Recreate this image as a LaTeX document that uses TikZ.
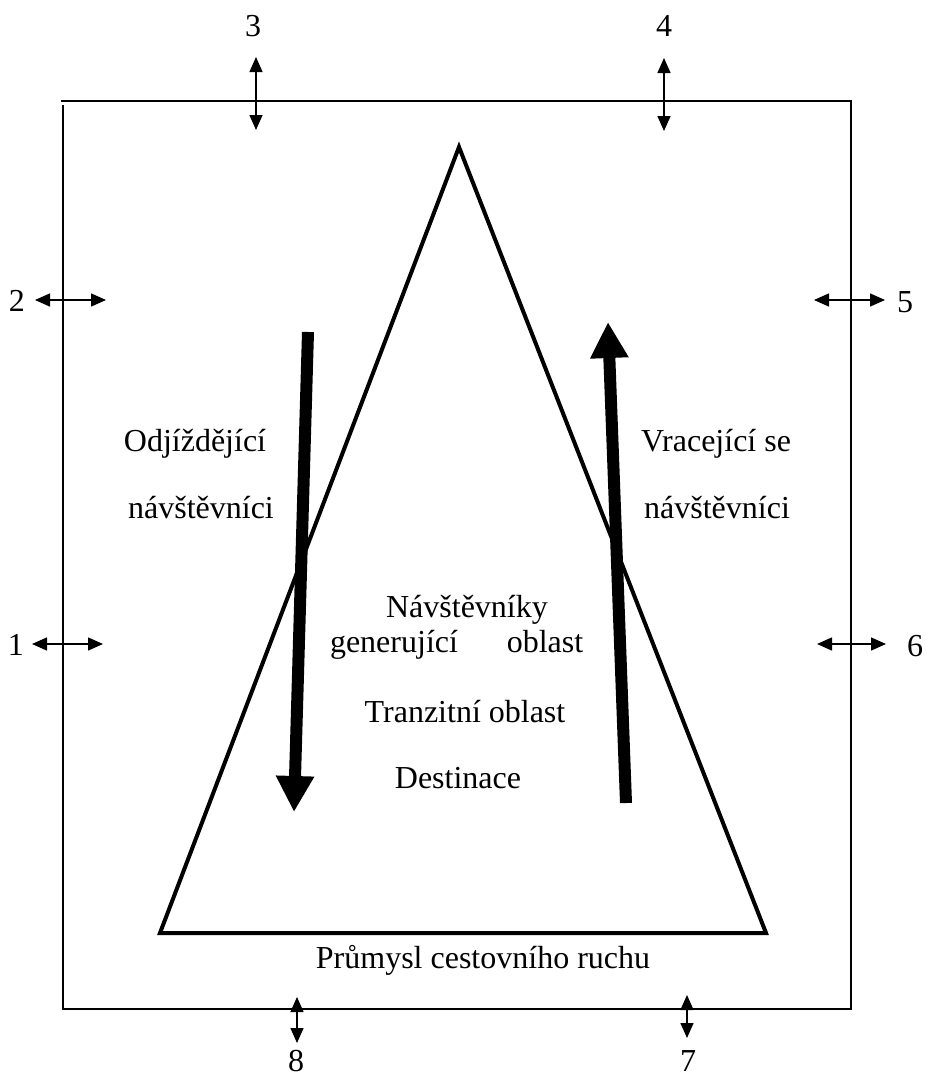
\documentclass[tikz,border=0pt]{standalone}
\usepackage{fontspec}
\setmainfont{Liberation Serif}
\usetikzlibrary{arrows.meta}
\begin{document}
\begin{tikzpicture}[x=1pt,y=-1pt,
  lbl/.style={font=\fontsize{32}{36}\selectfont, inner sep=0pt, anchor=base},
  frame/.style={line width=2pt},
  cone/.style={line width=4pt, line join=miter},
  flow/.style={line width=12pt, -{Triangle[length=36pt,width=36pt]}},
  gate/.style={line width=1.5pt, {Triangle[length=15pt,width=13pt]}-{Triangle[length=15pt,width=13pt]}}]
\useasboundingbox (0,0) rectangle (926,1077);
% outer frame
\draw[frame] (61,101) -- (852,101);
\draw[frame] (63,105) -- (63,1009);
\draw[frame] (62,1009) -- (852,1009);
\draw[frame] (851,101) -- (851,1010);
% triangle
\coordinate (apex) at (459,147);
\coordinate (bl) at (160,933);
\coordinate (br) at (766,933);
\draw[cone] (apex) -- (br) -- (bl) -- cycle;
% flows
\coordinate (d0) at (308,332);
\coordinate (d1) at (294,812);
\draw[flow] (d0) -- (d1);
\coordinate (u0) at (626,803);
\coordinate (u1) at (608,322);
\draw[flow] (u0) -- (u1);
% exchange arrows
\coordinate (a3s) at (256,57);   \coordinate (a3e) at (256,130);
\coordinate (a4s) at (664,58);   \coordinate (a4e) at (664,131);
\coordinate (a2s) at (35,300);   \coordinate (a2e) at (106,300);
\coordinate (a5s) at (814,300);  \coordinate (a5e) at (885,300);
\coordinate (a1s) at (32,644);   \coordinate (a1e) at (103,644);
\coordinate (a6s) at (817,644);  \coordinate (a6e) at (886,644);
\coordinate (a8s) at (297,997);  \coordinate (a8e) at (297,1043);
\coordinate (a7s) at (687,995);  \coordinate (a7e) at (687,1038);
\foreach \n in {1,...,8} \draw[gate] (a\n s) -- (a\n e);
% numbers
\node[lbl] (n3) at (253,36) {3};
\node[lbl] (n4) at (664,36) {4};
\node[lbl] (n2) at (17,311) {2};
\node[lbl] (n5) at (905,312) {5};
\node[lbl] (n1) at (16,655) {1};
\node[lbl] (n6) at (915,656) {6};
\node[lbl] (n8) at (296,1071) {8};
\node[lbl] (n7) at (688,1071) {7};
% labels
\node[lbl] (t1) at (195,451) {Odjíždějící};
\node[lbl] (t2) at (201,518) {návštěvníci};
\node[lbl] (t3) at (716,451) {Vracející se};
\node[lbl] (t4) at (717,518) {návštěvníci};
\node[lbl] (t5) at (467,617) {Návštěvníky};
\node[lbl] (t6) at (394,652) {generující};
\node[lbl] (t7) at (545,652) {oblast};
\node[lbl] (t8) at (465,722) {Tranzitní oblast};
\node[lbl] (t9) at (458,788) {Destinace};
\node[lbl] (t10) at (483,968) {Průmysl cestovního ruchu};
\end{tikzpicture}
\end{document}
